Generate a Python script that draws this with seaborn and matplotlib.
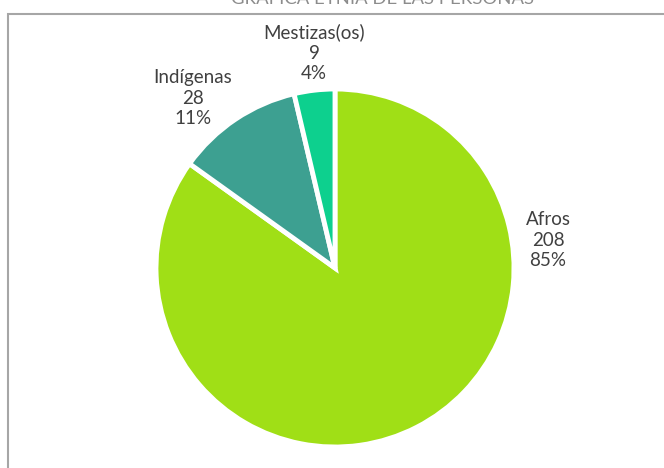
import matplotlib
matplotlib.use("Agg")
import matplotlib.pyplot as plt
import seaborn as sns
from matplotlib.patches import Rectangle

categories = ["Afros", "Indígenas", "Mestizas(os)"]
values = [208, 28, 9]
colors = ["#A0DF16", "#3DA091", "#0DD08E"]
title = "GRÁFICA ETNIA DE LAS PERSONAS"

sns.set_theme(style="white")
plt.rcParams["font.family"] = ["Lato", "DejaVu Sans"]

fig = plt.figure(figsize=(6.64, 4.68), dpi=100)
ax = fig.add_axes([0, 0, 1, 1])

wedges, _ = ax.pie(values, colors=colors, startangle=90, counterclock=False,
                   center=(335, 200), radius=179, frame=True,
                   wedgeprops=dict(edgecolor="white", linewidth=3.5))
ax.set_xlim(0, 664)
ax.set_ylim(0, 468)
ax.set_aspect("equal")
ax.axis("off")

total = sum(values)
label_pos = [(548, 228), (193, 370), (314, 415)]
for cat, v, (x, y) in zip(categories, values, label_pos):
    ax.text(x, y, f"{cat}\n{v}\n{round(100 * v / total)}%", ha="center", va="center",
            fontsize=13.5, color="#404040", linespacing=1.25)

fig.patches.append(Rectangle((7.5 / 664, -0.5), 2, 0.5 + (468 - 13.5) / 468,
                             transform=fig.transFigure,
                             fill=False, edgecolor="#a6a6a6", linewidth=1.5))
fig.text(382 / 664, 1.0 - 3.5 / 468, title, ha="center", va="baseline", fontsize=13.3,
         color="#8c8c8c")

fig.savefig("out.png", dpi=100)
